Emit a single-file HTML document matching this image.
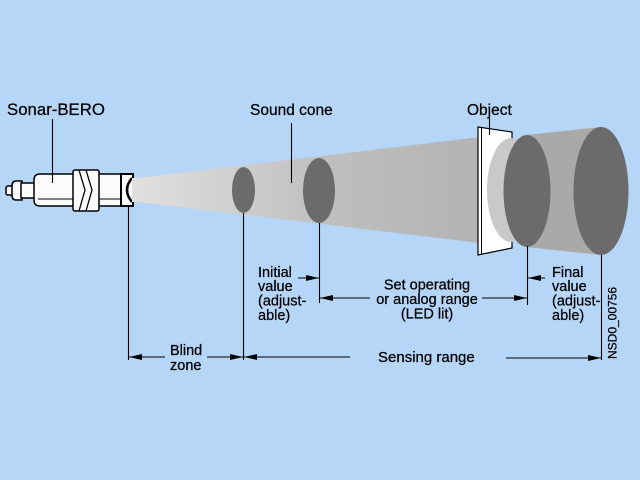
<!DOCTYPE html>
<html><head><meta charset="utf-8"><style>
html,body{margin:0;padding:0;background:#b6d6f8;}
svg{display:block}
text{font-family:"Liberation Sans",Arial,sans-serif;fill:#000;stroke:#000;stroke-width:0.25}
</style></head><body>
<svg width="640" height="480" viewBox="0 0 640 480" xmlns="http://www.w3.org/2000/svg">
<defs>
<linearGradient id="cg" gradientUnits="userSpaceOnUse" x1="130" y1="0" x2="480" y2="0">
<stop offset="0" stop-color="#e2e0dd"/>
<stop offset="0.3" stop-color="#cfcfcf"/>
<stop offset="0.55" stop-color="#bfbfbf"/>
<stop offset="1" stop-color="#b3b3b3"/>
</linearGradient>
</defs>
<rect width="640" height="480" fill="#b6d6f8"/>

<!-- cone -->
<polygon points="130,179 480,137 480,243 130,201" fill="url(#cg)"/>
<ellipse cx="243.5" cy="190" rx="11.5" ry="23" fill="#6b6b6b"/>
<ellipse cx="319" cy="190.5" rx="16" ry="32.5" fill="#6b6b6b"/>

<!-- object panel -->
<polygon points="478,127 512,132 512,248 478,255" fill="#ffffff" stroke="#000" stroke-width="1.2"/>
<line x1="481.5" y1="128" x2="481.5" y2="254" stroke="#000" stroke-width="1"/>
<ellipse cx="511" cy="190" rx="24" ry="52" fill="#c9c9c9"/>
<polygon points="526,135 601,127 601,255 526,247" fill="#a9a9a9"/>
<ellipse cx="527" cy="191" rx="23.5" ry="56" fill="#6b6b6b"/>
<ellipse cx="601" cy="191" rx="27.5" ry="64" fill="#6b6b6b"/>

<!-- sensor -->
<g fill="#fbfbfb" stroke="#000" stroke-width="1.5">
<rect x="6" y="186" width="7" height="9" rx="2"/>
<path d="M22,181 L16,181 Q12,181 12,186 L12,195 Q12,200 16,200 L22,200 Z"/>
<rect x="21" y="183" width="15" height="15"/>
<path d="M74,174 L40,174 Q34,174 34,180 L34,200 Q34,206 40,206 L74,206 Z"/>
<rect x="98" y="174" width="26" height="32"/>
<rect x="73" y="170" width="26" height="41" rx="2"/>
<rect x="121" y="174" width="12" height="32" stroke-width="2"/>
</g>
<g fill="none" stroke="#000" stroke-width="1.3">
<polyline points="79,170 85,190 79,211"/>
<polyline points="86,170 92,190 86,211"/>
<line x1="38" y1="199" x2="73" y2="199" stroke-width="1"/>
<line x1="99" y1="199" x2="121" y2="199" stroke-width="1"/>
<path d="M132,178 Q122,190 132,202" stroke-width="2.5"/>
</g>
<rect x="132" y="178" width="4" height="24" fill="#e2e0dd"/>

<!-- leader lines -->
<g stroke="#000" stroke-width="1.1" fill="none">
<line x1="52.5" y1="119" x2="52.5" y2="183"/>
<line x1="291.5" y1="123" x2="291.5" y2="183"/>
<line x1="489.5" y1="118" x2="489.5" y2="135"/>
<line x1="128.5" y1="205" x2="128.5" y2="360"/>
<line x1="243.5" y1="213" x2="243.5" y2="360"/>
<line x1="319.5" y1="223" x2="319.5" y2="303"/>
<line x1="527.5" y1="246" x2="527.5" y2="305"/>
<line x1="601.5" y1="255" x2="601.5" y2="360"/>
<line x1="298" y1="278" x2="319" y2="278"/>
<line x1="320" y1="298" x2="370" y2="298"/>
<line x1="482" y1="298" x2="527" y2="298"/>
<line x1="528" y1="278" x2="545" y2="278"/>
<line x1="128" y1="357" x2="165" y2="357"/>
<line x1="207" y1="357" x2="243" y2="357"/>
<line x1="244" y1="357" x2="350" y2="357"/>
<line x1="506" y1="358" x2="601" y2="358"/>
</g>
<!-- arrowheads -->
<g fill="#000">
<polygon points="319,278 306,275 306,281"/>
<polygon points="320,298 333,295 333,301"/>
<polygon points="527,298 514,295 514,301"/>
<polygon points="528,278 541,275 541,281"/>
<polygon points="129,357 142,354 142,360"/>
<polygon points="243,357 230,354 230,360"/>
<polygon points="244,357 257,354 257,360"/>
<polygon points="601,358 588,355 588,361"/>
</g>

<!-- labels -->
<text x="7" y="115" font-size="16.8">Sonar-BERO</text>
<text x="250" y="115" font-size="15.5">Sound cone</text>
<text x="467" y="115" font-size="15.5">Object</text>

<g font-size="14.5">
<text x="258" y="277">Initial</text>
<text x="258" y="291">value</text>
<text x="258" y="305.5">(adjust-</text>
<text x="258" y="320">able)</text>

<text x="552" y="277">Final</text>
<text x="552" y="291">value</text>
<text x="552" y="305.5">(adjust-</text>
<text x="552" y="320">able)</text>

<text x="427" y="289.5" text-anchor="middle">Set operating</text>
<text x="427" y="304" text-anchor="middle">or analog range</text>
<text x="427" y="318.5" text-anchor="middle">(LED lit)</text>

<text x="170" y="355">Blind</text>
<text x="170" y="370">zone</text>
</g>
<text x="378" y="362" font-size="15">Sensing range</text>
<text transform="translate(616.5,359) rotate(-90)" font-size="12">NSD0_00756</text>
</svg>
</body></html>
